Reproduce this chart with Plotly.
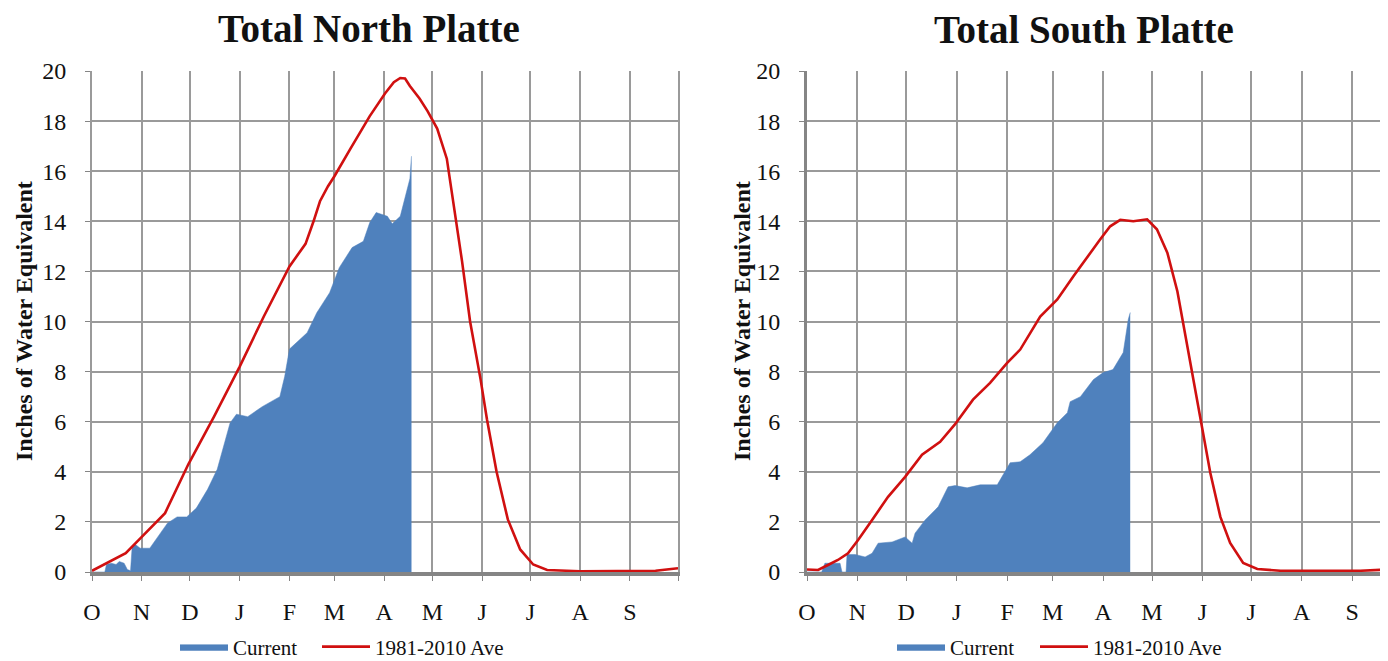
import plotly.graph_objects as go

# ---------------- data (day of water year, starting Oct 1) ----------------
MONTH_LABELS = ["O", "N", "D", "J", "F", "M", "A", "M", "J", "J", "A", "S"]
MONTH_START_DAYS = [0, 31, 61, 92, 123, 151, 182, 212, 243, 273, 304, 335]
Y_TICKS = [0, 2, 4, 6, 8, 10, 12, 14, 16, 18, 20]

# Total North Platte - 1981-2010 average
np_avg_days = [0, 11, 21, 31, 45.5, 60, 76, 92, 107, 123, 128, 133, 138, 142, 147, 151,
               161, 173, 182.5, 188, 192, 195, 198, 204, 209, 215, 221, 226, 230.5,
               235.5, 242, 246, 252, 259, 266.7, 274.8, 283.5, 304, 329, 351, 365]
np_avg_vals = [0.05, 0.4, 0.75, 1.4, 2.35, 4.3, 6.2, 8.2, 10.2, 12.2, 12.65, 13.1, 14.0,
               14.8, 15.4, 15.8, 16.9, 18.2, 19.1, 19.55, 19.72, 19.7, 19.4, 18.9, 18.4,
               17.7, 16.5, 14.4, 12.4, 10.0, 7.7, 6.1, 4.0, 2.1, 0.9, 0.3, 0.08, 0.03,
               0.03, 0.05, 0.15]

# Total North Platte - current
np_cur_days = [0, 8, 9, 12, 15, 17, 20, 22, 24, 25, 27, 30, 36, 40, 47, 53, 59, 65,
               72, 78, 82, 86, 90, 97, 106, 117, 120, 123, 134, 140, 148, 154, 162,
               169, 173, 177, 184, 187, 192, 195, 198, 199]
np_cur_vals = [0, 0, 0.3, 0.35, 0.3, 0.42, 0.35, 0.1, 0.05, 1.0, 1.1, 0.95, 0.95, 1.3,
               1.95, 2.2, 2.2, 2.55, 3.3, 4.1, 5.0, 5.95, 6.3, 6.2, 6.6, 7.0, 7.8, 8.9,
               9.55, 10.35, 11.15, 12.15, 12.95, 13.2, 13.95, 14.35, 14.2, 13.9, 14.2,
               14.9, 15.7, 16.6]

# Total South Platte - 1981-2010 average
sp_avg_days = [0, 6.8, 12.9, 19, 25.2, 31.4, 40, 49.8, 60.3, 70.7, 81.8, 91, 102,
               112.5, 123, 131, 143.3, 153.8, 163.6, 174, 180.2, 186.3, 192.5, 200.5,
               209, 215, 221.4, 227.6, 233.7, 241.7, 247.8, 254, 260, 268, 276.7, 291,
               315.5, 340, 357, 365]
sp_avg_vals = [0.1, 0.08, 0.28, 0.48, 0.75, 1.28, 2.08, 3.0, 3.8, 4.68, 5.2, 5.9, 6.88,
               7.55, 8.35, 8.88, 10.2, 10.88, 11.8, 12.75, 13.28, 13.8, 14.06, 14.0,
               14.08, 13.68, 12.75, 11.2, 9.0, 6.08, 3.96, 2.2, 1.16, 0.36, 0.12, 0.05,
               0.05, 0.05, 0.1, 0.12]

# Total South Platte - current
sp_cur_days = [0, 9, 11, 20.3, 21.5, 24, 24.6, 29.5, 35.7, 40, 43.7, 52.3, 60.3, 64.6,
               66.4, 72.6, 80.6, 86.7, 91, 98.4, 106.4, 116.9, 124.8, 131, 137, 145,
               153.8, 160, 161.7, 168, 176, 182, 188, 194.3, 197.4, 198.6]
sp_cur_vals = [0, 0, 0.35, 0.35, 0, 0, 0.7, 0.7, 0.6, 0.75, 1.15, 1.2, 1.4, 1.15, 1.55,
               2.08, 2.6, 3.4, 3.45, 3.36, 3.48, 3.48, 4.36, 4.4, 4.68, 5.16, 5.96,
               6.36, 6.8, 7.0, 7.68, 7.96, 8.08, 8.76, 10.08, 10.36]

TITLES = ["Total North Platte", "Total South Platte"]
Y_TITLE = "Inches of Water Equivalent"
SERIES_NAMES = ["Current", "1981-2010 Ave"]

# ---------------- styling ----------------
OFF = 8  # the page body adds an 8px margin around the figure
W, H = 1388 - OFF, 661 - OFF
BLUE = "#4f81bd"
RED = "#d01010"
GRID = "#9a9a9a"
SERIF = "Liberation Serif, Times New Roman, serif"


def px_x(p):
    return (p - OFF) / W


def px_y(p):
    return (H - (p - OFF)) / H


fig = go.Figure()

panels = [
    (np_cur_days, np_cur_vals, np_avg_days, np_avg_vals, "x", "y", "legend", "legend2"),
    (sp_cur_days, sp_cur_vals, sp_avg_days, sp_avg_vals, "x2", "y2", "legend3", "legend4"),
]
for cd, cv, ad, av, xa, ya, lg1, lg2 in panels:
    fig.add_trace(go.Scatter(
        x=cd, y=cv, name=SERIES_NAMES[0], mode="lines", fill="tozeroy",
        fillcolor=BLUE, line=dict(color=BLUE, width=0.5),
        xaxis=xa, yaxis=ya, legend=lg1, hoverinfo="skip"))
    fig.add_trace(go.Scatter(
        x=ad, y=av, name=SERIES_NAMES[1], mode="lines",
        line=dict(color=RED, width=2.6),
        xaxis=xa, yaxis=ya, legend=lg2, hoverinfo="skip"))

TICK_FONT = dict(family=SERIF, size=24, color="#111111")
xbase = dict(
    tickmode="array",
    tickvals=MONTH_START_DAYS + [365],
    ticktext=MONTH_LABELS + [""],
    showgrid=True, gridcolor=GRID, gridwidth=2,
    showline=True, linecolor="#858585", linewidth=4,
    ticks="outside", ticklen=5, tickcolor="#858585", tickwidth=1,
    ticklabelstandoff=10,
    tickfont=TICK_FONT,
    zeroline=False, fixedrange=True,
)
ybase = dict(
    range=[0, 20],
    tickmode="array", tickvals=Y_TICKS,
    showgrid=True, gridcolor=GRID, gridwidth=2,
    ticks="outside", ticklen=5, tickcolor="#858585", tickwidth=1,
    ticklabelstandoff=14,
    tickfont=TICK_FONT,
    zeroline=False, fixedrange=True,
)

y_dom = [px_y(572), px_y(71)]
LEGEND_FONT = dict(family=SERIF, size=21, color="#111111")


def legend_at(xpix):
    return dict(orientation="h", x=px_x(xpix), y=px_y(647), xanchor="left",
                yanchor="middle", itemwidth=48, font=LEGEND_FONT,
                bgcolor="rgba(0,0,0,0)", itemclick=False, itemdoubleclick=False)


fig.update_layout(
    width=W, height=H, autosize=False,
    margin=dict(l=0, r=0, t=0, b=0, pad=0, autoexpand=False),
    paper_bgcolor="white", plot_bgcolor="white",
    showlegend=True,
    xaxis=dict(xbase, domain=[px_x(92), px_x(678)], range=[0, 365], anchor="y"),
    yaxis=dict(ybase, domain=y_dom, anchor="x", showline=True,
               linecolor="#9a9a9a", linewidth=2, mirror=True),
    xaxis2=dict(xbase, domain=[px_x(807), 1.0], range=[0, 357], anchor="y2"),
    yaxis2=dict(ybase, domain=y_dom, anchor="x2", showline=True,
                linecolor="#858585", linewidth=3),
    legend=legend_at(175),
    legend2=legend_at(317),
    legend3=legend_at(892),
    legend4=legend_at(1035),
)

annotations = [
    dict(text="<b>" + TITLES[0] + "</b>", x=px_x(369), y=px_y(28)),
    dict(text="<b>" + TITLES[1] + "</b>", x=px_x(1084), y=px_y(30)),
]
for a in annotations:
    fig.add_annotation(xref="paper", yref="paper", showarrow=False,
                       xanchor="center", yanchor="middle",
                       font=dict(family=SERIF, size=39, color="#111111"), **a)

for xc in (24, 742):
    fig.add_annotation(xref="paper", yref="paper", showarrow=False,
                       x=px_x(xc), y=px_y(321), textangle=-90,
                       xanchor="center", yanchor="middle",
                       text="<b>" + Y_TITLE + "</b>",
                       font=dict(family=SERIF, size=24, color="#111111"))

fig.write_html("out.html")
